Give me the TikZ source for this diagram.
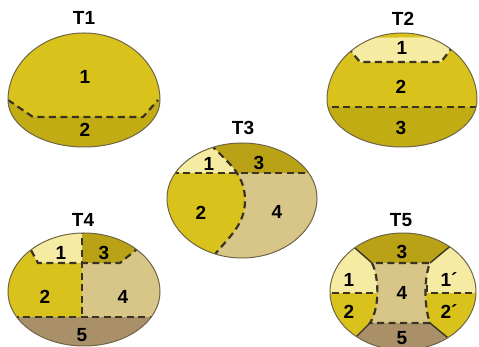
\documentclass[tikz,border=0pt]{standalone}
\usepackage{fontspec}
\setmainfont{Liberation Sans}
\usepackage{xcolor}

\definecolor{ylw}{HTML}{D8C21B}
\definecolor{ylwdark}{HTML}{C2AC14}
\definecolor{pale}{HTML}{F6EBA2}
\definecolor{olive}{HTML}{B9A216}
\definecolor{tan}{HTML}{D8C588}
\definecolor{brownish}{HTML}{A99069}
\definecolor{rimcol}{HTML}{6E6448}
\definecolor{seamcol}{HTML}{3B3322}

% egg outline: centre x, height of widest point, half width, top rise, bottom drop
\newcommand{\eggpath}[5]{({#1-#3},#2)
  .. controls ({#1-#3},{#2+0.55*#4}) and ({#1-0.55*#3},{#2+#4}) .. (#1,{#2+#4})
  .. controls ({#1+0.55*#3},{#2+#4}) and ({#1+#3},{#2+0.55*#4}) .. ({#1+#3},#2)
  .. controls ({#1+#3},{#2-0.55*#5}) and ({#1+0.55*#3},{#2-#5}) .. (#1,{#2-#5})
  .. controls ({#1-0.55*#3},{#2-#5}) and ({#1-#3},{#2-0.55*#5}) .. cycle}

\begin{document}
\begin{tikzpicture}[
    x=1pt, y=1pt,
    rim/.style={draw=rimcol, line width=1pt},
    seam/.style={draw=seamcol, line width=2.2pt, dash pattern=on 7pt off 4.5pt},
    split/.style={draw=seamcol, line width=1.4pt},
    num/.style={font=\fontsize{19}{19}\selectfont\bfseries, inner sep=0pt},
    title/.style={font=\fontsize{19}{19}\selectfont\bfseries, inner sep=0pt}
]
\useasboundingbox (0,0) rectangle (479,347);

% T1
\begin{scope}
    \clip \eggpath{84}{247}{76}{67}{47};
    \fill[ylw] (0,190) rectangle (170,320);
    \fill[ylwdark] (0,247) -- (8,247) -- (33,230) -- (143,230) -- (158,247) -- (170,247) -- (170,190) -- (0,190) -- cycle;
    \draw[seam] (8,247) -- (33,230) -- (143,230) -- (158,247);
\end{scope}
\draw[rim] \eggpath{84}{247}{76}{67}{47};
\node[title] (t1) at (84,329) {T1};
\node[num] (t1a) at (85,270) {1};
\node[num] (t1b) at (85,217) {2};

% T2
\begin{scope}
    \clip \eggpath{402}{247}{75}{67}{47};
    \fill[ylw] (320,190) rectangle (479,320);
    \fill[pale] (340,309) -- (349,298) -- (360,285) -- (441,285) -- (451,298) -- (460,310) -- cycle;
    \fill[ylwdark] (320,190) rectangle (479,240);
    \draw[seam] (340,309) -- (349,298) -- (360,285) -- (441,285) -- (451,298) -- (460,310);
    \draw[seam] (320,240) -- (479,240);
\end{scope}
\draw[rim] \eggpath{402}{247}{75}{67}{47};
\node[title] (t2) at (403,328) {T2};
\node[num] (t2a) at (402,299) {1};
\node[num] (t2b) at (401,260) {2};
\node[num] (t2c) at (401,219) {3};

% T3
\begin{scope}
    \clip \eggpath{242}{149}{75}{55}{60};
    \fill[tan] (160,80) rectangle (325,210);
    \fill[ylw] (160,215) -- (211,215) -- (213,200) to[out=-45, in=90] (245,147) to[out=-90, in=50] (216,94) -- (205,80) -- (160,80) -- cycle;
    \fill[olive] (160,174) rectangle (325,215);
    \begin{scope}
        \clip (160,174) rectangle (325,215);
        \fill[pale] (160,215) -- (211,215) -- (213,200) to[out=-45, in=90] (245,147) -- (160,147) -- cycle;
    \end{scope}
    \draw[seam] (160,174) -- (325,174);
    \draw[seam] (211,215) -- (213,200) to[out=-45, in=90] (245,147) to[out=-90, in=50] (216,94) -- (205,80);
\end{scope}
\draw[rim] \eggpath{242}{149}{75}{55}{60};
\node[title] (t3) at (243,219) {T3};
\node[num] (t3a) at (209,183) {1};
\node[num] (t3c) at (259,184) {3};
\node[num] (t3b) at (201,134) {2};
\node[num] (t3d) at (277,135) {4};

% T4
\begin{scope}
    \clip \eggpath{84}{55}{76}{59}{54};
    \fill[ylw] (0,-10) rectangle (170,120);
    \fill[tan] (82,30) -- (82,84) -- (120,84) -- (160,117) -- (170,117) -- (170,30) -- cycle;
    \fill[olive] (82,84) -- (120,84) -- (160,117) -- (82,117) -- cycle;
    \fill[pale] (20,117) -- (38,84) -- (82,84) -- (82,117) -- cycle;
    \fill[brownish] (0,-10) rectangle (170,30);
    \draw[seam] (82,120) -- (82,30);
    \draw[seam] (20,117) -- (38,84) -- (82,84) -- (120,84) -- (160,117);
    \draw[seam] (0,30) -- (170,30);
\end{scope}
\draw[rim] \eggpath{84}{55}{76}{59}{54};
\node[title] (t4) at (83,127) {T4};
\node[num] (t4a) at (61,94) {1};
\node[num] (t4c) at (104,94) {3};
\node[num] (t4b) at (45,50) {2};
\node[num] (t4d) at (123,50) {4};
\node[num] (t4e) at (82,12) {5};

% T5
\begin{scope}
    \clip \eggpath{403}{55}{73}{59}{58};
    \fill[ylw] (320,-20) rectangle (485,54);
    \fill[pale] (320,54) rectangle (485,120);
    \fill[olive] (372,84) -- (322,128) -- (483,128) -- (430,84) -- cycle;
    \fill[brownish] (370,24) -- (326,-20) -- (483,-20) -- (430,24) -- cycle;
    \fill[tan] (372,84) .. controls (379,70) and (380,40) .. (370,24) -- (430,24) .. controls (424,40) and (424,70) .. (430,84) -- cycle;
    \draw[split] (372,84) -- (322,128);
    \draw[split] (430,84) -- (483,128);
    \draw[split] (370,24) -- (326,-20);
    \draw[split] (430,24) -- (483,-20);
    \draw[seam] (372,84) .. controls (379,70) and (380,40) .. (370,24) -- (430,24) .. controls (424,40) and (424,70) .. (430,84) -- cycle;
    \draw[seam] (320,54) -- (376,54);
    \draw[seam] (427,62) -- (427,54) -- (485,54);
\end{scope}
\draw[rim] \eggpath{403}{55}{73}{59}{58};
\node[title] (t5) at (401,127) {T5};
\node[num] (t5c) at (402,95) {3};
\node[num] (t5a) at (349,67) {1};
\node[num] (t5d) at (402,54) {4};
\node[num] (t5a2) at (449,67) {1´};
\node[num] (t5b) at (349,35) {2};
\node[num] (t5b2) at (449,35) {2´};
\node[num] (t5e) at (402,9) {5};

\end{tikzpicture}
\end{document}
